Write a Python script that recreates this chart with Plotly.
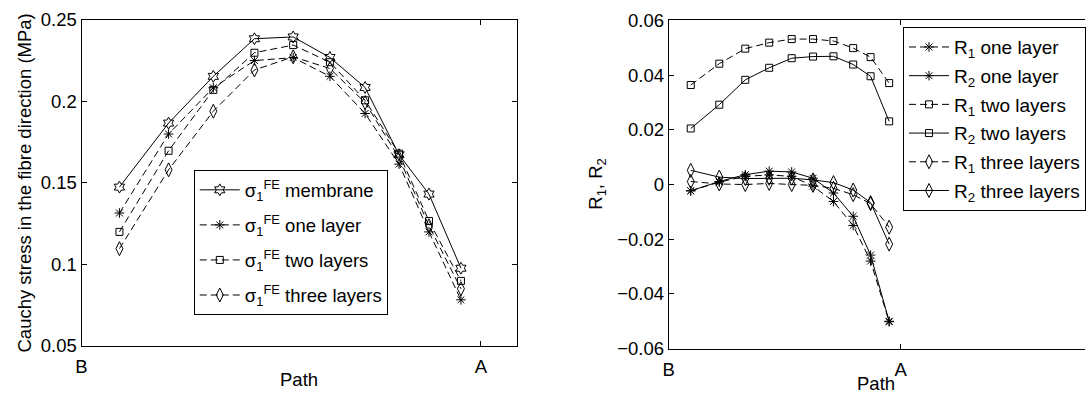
import plotly.graph_objects as go

# ---------------- data ----------------
path_pos = [0.095, 0.218, 0.33, 0.433, 0.53, 0.622, 0.71, 0.795, 0.87, 0.95]
path_ticks = [0, 1]
path_labels = ["B", "A"]

sig_membrane = [0.1474, 0.1867, 0.2154, 0.2385, 0.2396, 0.2270, 0.2086, 0.1673, 0.1431, 0.0976]
sig_one = [0.1315, 0.1800, 0.2084, 0.2251, 0.2269, 0.2154, 0.1926, 0.1615, 0.1199, 0.0782]
sig_two = [0.1199, 0.1697, 0.2071, 0.2299, 0.2346, 0.2241, 0.2007, 0.1680, 0.1266, 0.0898]
sig_three = [0.1096, 0.1580, 0.1940, 0.2193, 0.2274, 0.2202, 0.1993, 0.1654, 0.1237, 0.0850]

r1_one = [-0.0023, 0.0009, 0.0030, 0.0035, 0.0030, -0.0006, -0.0062, -0.0150, -0.0280, -0.0502]
r2_one = [-0.0023, 0.0011, 0.0036, 0.0049, 0.0046, 0.0023, -0.0031, -0.0116, -0.0258, -0.0500]
r1_two = [0.0364, 0.0442, 0.0497, 0.0519, 0.0532, 0.0532, 0.0525, 0.0499, 0.0466, 0.0371]
r2_two = [0.0205, 0.0292, 0.0383, 0.0427, 0.0462, 0.0468, 0.0469, 0.0439, 0.0396, 0.0231]
r1_three = [0.0011, 0.0002, 0.0000, 0.0004, 0.0000, -0.0003, -0.0014, -0.0037, -0.0070, -0.0156]
r2_three = [0.0052, 0.0027, 0.0022, 0.0023, 0.0023, 0.0017, 0.0007, -0.0020, -0.0066, -0.0218]

# ---------------- layout helpers ----------------
W, H = 1086, 406
FONT = "Liberation Sans, Arial, Helvetica, sans-serif"
FS = 18.5
DASH = "7px,4px"


def fx(p):
    return p / W


def fy(p):
    return 1 - p / H


fig = go.Figure()

left_series = [
    (sig_membrane, "solid", "hexagram-open", 9, "σ<sub>1</sub><sup>FE</sup> membrane"),
    (sig_one, DASH, "asterisk-open", 8, "σ<sub>1</sub><sup>FE</sup> one layer"),
    (sig_two, DASH, "square-open", 7, "σ<sub>1</sub><sup>FE</sup> two layers"),
    (sig_three, DASH, "diamond-tall-open", 10, "σ<sub>1</sub><sup>FE</sup> three layers"),
]
for i, (ys, dash, sym, sz, name) in enumerate(left_series):
    fig.add_trace(go.Scatter(
        x=path_pos, y=ys, mode="lines+markers", name=name,
        line=dict(color="black", width=1, dash=dash),
        marker=dict(symbol=sym, size=sz, color="black", line=dict(color="black", width=1)),
        xaxis="x", yaxis="y", legend="legend", legendgroup="L%d" % i,
    ))

right_series = [
    (r1_one, DASH, "asterisk-open", 8, "R<sub>1</sub> one layer"),
    (r2_one, "solid", "asterisk-open", 8, "R<sub>2</sub> one layer"),
    (r1_two, DASH, "square-open", 7, "R<sub>1</sub> two layers"),
    (r2_two, "solid", "square-open", 7, "R<sub>2</sub> two layers"),
    (r1_three, DASH, "diamond-tall-open", 10, "R<sub>1</sub> three layers"),
    (r2_three, "solid", "diamond-tall-open", 10, "R<sub>2</sub> three layers"),
]
for i, (ys, dash, sym, sz, name) in enumerate(right_series):
    fig.add_trace(go.Scatter(
        x=path_pos, y=ys, mode="lines+markers", name=name,
        line=dict(color="black", width=1, dash=dash),
        marker=dict(symbol=sym, size=sz, color="black", line=dict(color="black", width=1)),
        xaxis="x2", yaxis="y2", legend="legend2", legendgroup="R%d" % i,
    ))

axis_common = dict(
    showline=True, linecolor="black", linewidth=1,
    ticks="inside", ticklen=5, tickcolor="black", tickwidth=1,
    showgrid=False, zeroline=False, ticklabeloverflow="allow",
    tickfont=dict(family=FONT, size=FS, color="black"),
)

fig.update_layout(
    width=W, height=H,
    margin=dict(l=0, r=0, t=0, b=0),
    paper_bgcolor="white", plot_bgcolor="white",
    font=dict(family=FONT, size=FS, color="black"),
    xaxis=dict(domain=[fx(76), fx(514)], range=[0, 1.0896], tickvals=path_ticks,
               ticktext=path_labels, mirror="ticks", anchor="y", ticklabelstandoff=4,
               **axis_common),
    yaxis=dict(domain=[fy(353), fy(9.5)], range=[0.05, 0.25], dtick=0.05,
               mirror="ticks", anchor="x", **axis_common),
    xaxis2=dict(domain=[fx(667), 1.0], range=[0, 1.794],
                tickvals=path_ticks, ticktext=path_labels, mirror="ticks", anchor="y2",
                ticklabelstandoff=4, **axis_common),
    yaxis2=dict(domain=[fy(356), fy(10)], range=[-0.06, 0.06], dtick=0.02,
                anchor="x2", mirror=False, **axis_common),
    legend=dict(x=fx(189), y=fy(168), xanchor="left", yanchor="top",
                bgcolor="white", bordercolor="black", borderwidth=1,
                font=dict(family=FONT, size=FS, color="black"),
                tracegroupgap=8, itemwidth=40),
    legend2=dict(x=fx(903), y=fy(17), xanchor="left", yanchor="top",
                 bgcolor="white", bordercolor="black", borderwidth=1,
                 font=dict(family=FONT, size=19, color="black"),
                 tracegroupgap=1, itemwidth=40),
    showlegend=True,
)

# the right panel is cut off at the page edge: hide the closing frame line there
fig.add_shape(type="rect", xref="paper", yref="paper", layer="above",
              x0=fx(1082), x1=1.0, y0=fy(355), y1=fy(11),
              fillcolor="white", line=dict(width=0))

fig.add_annotation(text="Cauchy stress in the fibre direction (MPa)", textangle=-90,
                   x=fx(19), y=fy(181), xref="paper", yref="paper", showarrow=False,
                   xanchor="center", yanchor="middle", font=dict(family=FONT, size=FS))
fig.add_annotation(text="Path", x=fx(295), y=fy(389), xref="paper", yref="paper",
                   showarrow=False, xanchor="center", yanchor="middle",
                   font=dict(family=FONT, size=FS))
fig.add_annotation(text="R<sub>1</sub>, R<sub>2</sub>", textangle=-90,
                   x=fx(594), y=fy(183), xref="paper", yref="paper", showarrow=False,
                   xanchor="center", yanchor="middle", font=dict(family=FONT, size=FS))
fig.add_annotation(text="Path", x=fx(876), y=fy(393), xref="paper", yref="paper",
                   showarrow=False, xanchor="center", yanchor="middle",
                   font=dict(family=FONT, size=FS))

fig.write_html("out.html")
